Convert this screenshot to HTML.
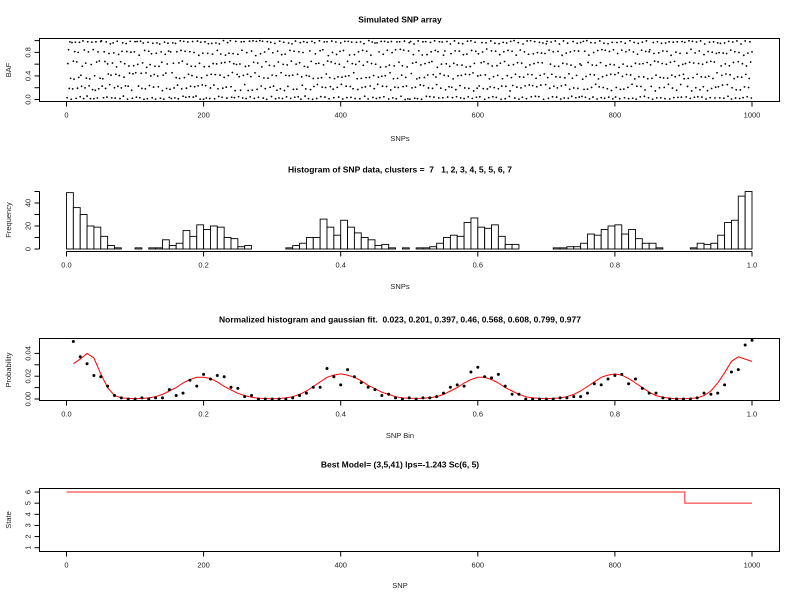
<!DOCTYPE html>
<html><head><meta charset="utf-8"><style>
html,body{margin:0;padding:0;background:#fff;}
svg{display:block;font-family:"Liberation Sans",Arial,sans-serif;}
text{white-space:pre;}
.t{font-weight:bold;font-size:8.5px;text-anchor:middle;dominant-baseline:middle;}
.l{font-size:7.5px;text-anchor:middle;dominant-baseline:middle;fill:#222;}
</style></head><body>
<svg id="c" width="800" height="600" viewBox="0 0 800 600" xml:space="preserve"></svg>
<script>
// ---- data ----
const histCounts=[49,36,30,20,19,11,3,1,0,0,1,0,1,1,8,3,5,16,11,21,17,20,19,10,9,2,3,0,0,0,0,0,1,3,5,10,10,26,19,12,25,19,14,10,8,3,4,1,0,1,0,1,1,2,5,10,12,11,23,27,19,18,21,11,4,4,0,0,0,0,0,1,1,2,2,5,13,12,17,20,21,13,17,9,5,5,1,0,0,0,0,1,5,4,5,12,23,25,46,50];
const fitValues=[0.031,0.035,0.040,0.036,0.022,0.010,0.003,0.001,0.0005,0.0003,0.0005,0.001,0.002,0.004,0.007,0.010,0.014,0.017,0.019,0.019,0.018,0.015,0.011,0.008,0.005,0.003,0.0015,0.0007,0.0004,0.0003,0.0004,0.001,0.002,0.004,0.007,0.011,0.015,0.019,0.021,0.022,0.021,0.019,0.016,0.012,0.009,0.006,0.004,0.002,0.001,0.0006,0.0005,0.0007,0.0012,0.002,0.004,0.007,0.010,0.014,0.017,0.019,0.019,0.017,0.014,0.010,0.007,0.004,0.002,0.001,0.0005,0.0003,0.0005,0.001,0.002,0.004,0.007,0.011,0.015,0.019,0.021,0.022,0.021,0.018,0.014,0.010,0.006,0.003,0.0015,0.0007,0.0003,0.0003,0.0005,0.001,0.003,0.007,0.014,0.023,0.033,0.037,0.035,0.033];
const bafLevels="03415205132450314250213504132054120351402153041325"+"51204315032415203541023514203145023154013254102345"+"20531405213504123054132405123045213504312054213540"+"14025310524103254130524013520413250413025143052140"+"35102453012543102534105243015234105243510243015324"+"02315402513042135024153024513025413502413052431502"+"41350214305124035142031524035214053120435021453012"+"53024135021543012354021435012534021354102354120345"+"12043521035241053124035214305214350124305214350215"+"30512403521405231450321540231405213540231450213045"+"05213450132054213045123504213054312054213405213504"+"24135021354102354103254102354012345012354021354012"+"41023541302541302154302154032154301254301524301524"+"13502413502413052413052413502143502143052143502415"+"52041352041352014352014350214350214302514302514035"+"30251402513402513042513042153042150432150432150432"+"01542301542310542310452310452301452301453201453204"+"43120543120534120534210534215034215032415032410532"+"25304125304152304152034152031452031425031425301425"+"14053214053241053240153240152340152304152304125304";
const bafJitter=[-0.03,0.01,0.045,-0.012,0.022,-0.041,0.004,0.033,-0.019,0.052,-0.055,0.013,-0.028,0.019,0.038,-0.008,0.0,-0.024,0.029,-0.046,0.011,0.024,-0.035,0.006,-0.015,0.041,-0.002,0.017,-0.038,0.058,-0.021,0.008,0.031,-0.05,0.014,-0.006,0.026,-0.032,0.047,-0.013,0.003,-0.044,0.021,0.036,-0.026,0.009,-0.017,0.054,-0.039,0.016,-0.004,0.028,-0.048];
const stateX=[0,902,1000];
const stateY=[6,5,5];
const titles=["Simulated SNP array","Histogram of SNP data, clusters =  7   1, 2, 3, 4, 5, 5, 6, 7","Normalized histogram and gaussian fit.  0.023, 0.201, 0.397, 0.46, 0.568, 0.608, 0.799, 0.977","Best Model= (3,5,41) lps=-1.243 Sc(6, 5)"];

const S=document.getElementById('c');
const NS='http://www.w3.org/2000/svg';
function mk(tag,at,parent){const e=document.createElementNS(NS,tag);for(const k in at)e.setAttribute(k,at[k]);(parent||S).appendChild(e);return e;}
function txt(x,y,s,cls,rot){const e=mk('text',{x:x,y:y,class:cls});if(rot)e.setAttribute('transform','rotate(-90 '+x+' '+y+')');e.textContent=s;return e;}
const X0=66.5,X1=752,BL=39.5,BR=779.5;

function xAxis(y,ticks,labels,sc,name){
  const g=mk('g',{});
  
  
  mk('line',{x1:sc(ticks[0]),x2:sc(ticks[ticks.length-1]),y1:y,y2:y,stroke:'#000','stroke-width':1},g);
  ticks.forEach((t,i)=>{mk('line',{x1:sc(t),x2:sc(t),y1:y,y2:y+5,stroke:'#000'},g);
    const e=mk('text',{x:sc(t),y:y+14,class:'l'},g);e.textContent=labels[i];});
}
function yAxis(x,ticks,labels,sc,name){
  const g=mk('g',{});
  
  
  mk('line',{x1:x,x2:x,y1:sc(ticks[0]),y2:sc(ticks[ticks.length-1]),stroke:'#000'},g);
  ticks.forEach((t,i)=>{mk('line',{x1:x,x2:x-5,y1:sc(t),y2:sc(t),stroke:'#000'},g);
    if(labels[i]!==''){const e=mk('text',{x:x-11,y:sc(t),class:'l',transform:'rotate(-90 '+(x-11)+' '+sc(t)+')'},g);e.textContent=labels[i];}});
}
function box(t,b,name){const r=mk('rect',{x:BL,y:t,width:BR-BL,height:b-t,fill:'none',stroke:'#000'});
  
  }

// titles
const ty=[20,170,320,465];
titles.forEach((s,i)=>{const e=txt(400,ty[i],s,'t');
  
  });

// ---- Panel 1 ----
const sx1=v=>X0+(v/1000)*(X1-X0);
const sy1=v=>99.5-v*58.9;
box(38.5,101.5,'baf-plot-box');
const g1=mk('g',{fill:'#000'});


for(let i=0;i<bafLevels.length;i++){
  const lv=+bafLevels[i]*0.2;let j=bafJitter[i%bafJitter.length];
  let v=lv+j; if(lv===0)v=Math.abs(j); if(lv===1)v=1-Math.abs(j);
  mk('circle',{cx:sx1(i+1),cy:sy1(v),r:0.9},g1);
}
xAxis(101.5,[0,200,400,600,800,1000],['0','200','400','600','800','1000'],sx1,'baf-x-axis');
yAxis(BL,[0,0.2,0.4,0.6,0.8,1.0],['0.0','','0.4','','0.8',''],sy1,'baf-y-axis');
let e=txt(400,139,'SNPs','l');
e=txt(9,70,'BAF','l',1);

// ---- Panel 2 ----
const sx2=v=>X0+v*(X1-X0);
const sy2=v=>249-v*1.15;
const g2=mk('g',{});


histCounts.forEach((c,i)=>{
  const r=mk('rect',{x:sx2(i/100),y:sy2(c),width:sx2((i+1)/100)-sx2(i/100),height:sy2(0)-sy2(c),fill:'#fff',stroke:'#000','stroke-width':0.9},g2);
  
  
});
xAxis(251.5,[0,0.2,0.4,0.6,0.8,1.0],['0.0','0.2','0.4','0.6','0.8','1.0'],sx2,'hist-x-axis');
yAxis(BL,[0,10,20,30,40,50],['0','','20','','40',''],sy2,'hist-y-axis');
e=txt(400,287,'SNPs','l');
e=txt(9,220,'Frequency','l',1);

// ---- Panel 3 ----
const total=histCounts.reduce((a,b)=>a+b,0);
const sx3=v=>X0+v*(X1-X0);
const sy3=v=>399-v*1140;
box(338.5,400.5,'fit-plot-box');
let d='';
fitValues.forEach((v,i)=>{d+=(i?'L':'M')+sx3((i+1)/100).toFixed(1)+','+sy3(v).toFixed(1);});
const fl=mk('path',{d:d,fill:'none',stroke:'#f00','stroke-width':1});


const g3=mk('g',{fill:'#000'});


histCounts.forEach((c,i)=>{mk('circle',{cx:sx3((i+1)/100),cy:sy3(c/total),r:1.5},g3);});
xAxis(400.5,[0,0.2,0.4,0.6,0.8,1.0],['0.0','0.2','0.4','0.6','0.8','1.0'],sx3,'fit-x-axis');
yAxis(BL,[0,0.01,0.02,0.03,0.04],['0.00','','0.02','','0.04'],sy3,'fit-y-axis');
e=txt(400,436,'SNP Bin','l');
e=txt(9,370,'Probability','l',1);

// ---- Panel 4 ----
const sx4=v=>X0+(v/1000)*(X1-X0);
const sy4=v=>547.7-(v-1)*11.13;
box(488.5,551.5,'state-plot-box');
let d4='M'+sx4(stateX[0])+','+sy4(stateY[0]);
for(let i=1;i<stateX.length;i++){d4+='H'+sx4(stateX[i])+'V'+sy4(stateY[i]);}
const sl=mk('path',{d:d4,fill:'none',stroke:'#f22','stroke-width':1});


xAxis(551.5,[0,200,400,600,800,1000],['0','200','400','600','800','1000'],sx4,'state-x-axis');
yAxis(BL,[1,2,3,4,5,6],['1','2','3','4','5','6'],sy4,'state-y-axis');
e=txt(400,586,'SNP','l');
e=txt(9,520,'State','l',1);
</script>
</body></html>
